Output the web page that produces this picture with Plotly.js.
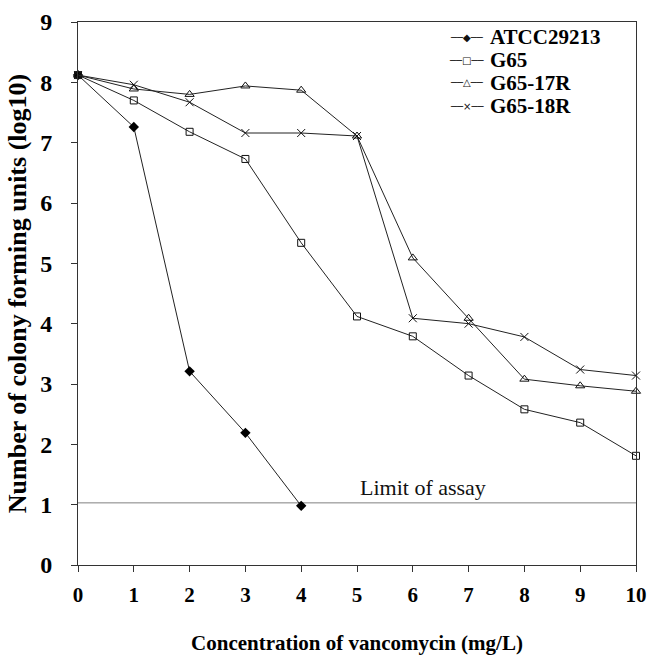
<!DOCTYPE html>
<html>
<head>
<meta charset="utf-8">
<script src="https://cdn.plot.ly/plotly-3.0.1.min.js"></script>
<style>html,body{margin:0;padding:0;background:#fff;}#chart{width:649px;height:661px;}</style>
</head>
<body>
<div id="chart"></div>
<script>
// ---- data ----
var concentration = [0, 1, 2, 3, 4, 5, 6, 7, 8, 9, 10];
var atccX = [0, 1, 2, 3, 4];
var atcc29213 = [8.12, 7.26, 3.21, 2.19, 0.98];
var g65 = [8.12, 7.70, 7.18, 6.73, 5.34, 4.12, 3.79, 3.14, 2.58, 2.36, 1.81];
var g65_17R = [8.12, 7.89, 7.80, 7.94, 7.87, 7.11, 5.09, 4.09, 3.08, 2.97, 2.88];
var g65_18R = [8.12, 7.96, 7.67, 7.16, 7.16, 7.11, 4.09, 4.00, 3.78, 3.24, 3.14];
var seriesNames = ["ATCC29213", "G65", "G65-17R", "G65-18R"];
var legendGlyphs = ["\u2500\u2500\u25C6\u2500\u2500", "\u2500\u2500\u25A1\u2500\u2500", "\u2500\u2500\u25B3\u2500\u2500", "\u2500\u2500\u00D7\u2500\u2500"];
var limitX = [0, 10];
var limitY = [1.03, 1.03];
var limitLabel = "Limit of assay";
var xTicks = [0, 1, 2, 3, 4, 5, 6, 7, 8, 9, 10];
var yTicks = [0, 1, 2, 3, 4, 5, 6, 7, 8, 9];

var serif = "Liberation Serif, Times New Roman, serif";
var lineCol = "#222";

var traces = [
  {x: limitX, y: limitY, mode: "lines", line: {color: "#808080", width: 1}, hoverinfo: "skip", showlegend: false, cliponaxis: false},
  {x: atccX, y: atcc29213, name: seriesNames[0], mode: "lines+markers", cliponaxis: false,
   line: {color: lineCol, width: 1}, marker: {symbol: "diamond", size: 8, color: "#000"}},
  {x: concentration, y: g65, name: seriesNames[1], mode: "lines+markers", cliponaxis: false,
   line: {color: lineCol, width: 1}, marker: {symbol: "square-open", size: 7, color: "#111", line: {width: 1}}},
  {x: concentration, y: g65_17R, name: seriesNames[2], mode: "lines+markers", cliponaxis: false,
   line: {color: lineCol, width: 1}, marker: {symbol: "triangle-up-open", size: 8, color: "#111", line: {width: 1}}},
  {x: concentration, y: g65_18R, name: seriesNames[3], mode: "lines+markers", cliponaxis: false,
   line: {color: lineCol, width: 1}, marker: {symbol: "x-thin-open", size: 8, color: "#111", line: {width: 1, color: "#111"}}}
];

var rowsY = [0.972, 0.930, 0.888, 0.845];
var annotations = [
  {x: 6.18, y: 1.29, xref: "x", yref: "y", text: limitLabel, showarrow: false,
   font: {family: serif, size: 22, color: "#111"}}
];
for (var i = 0; i < seriesNames.length; i++) {
  annotations.push({xref: "paper", yref: "paper", x: 0.735, y: rowsY[i], xanchor: "left", yanchor: "middle",
    text: "<b>" + seriesNames[i] + "</b>", showarrow: false, font: {family: serif, size: 21, color: "#000"}});
  annotations.push({xref: "paper", yref: "paper", x: 0.697, y: rowsY[i], xanchor: "center", yanchor: "middle",
    text: legendGlyphs[i], showarrow: false, font: {family: "DejaVu Sans", size: 10, color: "#111"}});
}

var layout = {
  width: 649, height: 661,
  margin: {l: 78, r: 13, t: 22, b: 96},
  paper_bgcolor: "#fff", plot_bgcolor: "#fff",
  showlegend: false,
  xaxis: {
    range: [0, 10], tickvals: xTicks, ticktext: xTicks.map(String),
    showgrid: false, zeroline: false, showline: true, linecolor: "#333", linewidth: 1, mirror: true,
    ticks: "outside", ticklen: 6, tickcolor: "#333", ticklabelstandoff: 5,
    tickfont: {family: serif, size: 21, color: "#000", weight: "bold"},
    title: {text: "<b>Concentration of vancomycin (mg/L)</b>", font: {family: serif, size: 21, color: "#000"}, standoff: 29}
  },
  yaxis: {
    range: [0, 9], tickvals: yTicks, ticktext: yTicks.map(String),
    showgrid: false, zeroline: false, showline: true, linecolor: "#333", linewidth: 1, mirror: true,
    ticks: "outside", ticklen: 6, tickcolor: "#333", ticklabelstandoff: 14,
    tickfont: {family: serif, size: 24, color: "#000", weight: "bold"},
    title: {text: "<b>Number of colony forming units (log10)</b>", font: {family: serif, size: 26, color: "#000"}, standoff: 6}
  },
  annotations: annotations
};

Plotly.newPlot("chart", traces, layout, {displayModeBar: false, staticPlot: true});
</script>
</body>
</html>
